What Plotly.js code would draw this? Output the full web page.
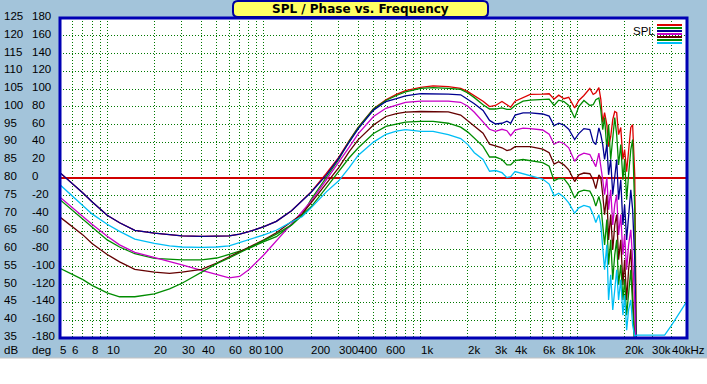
<!DOCTYPE html>
<html>
<head>
<meta charset="utf-8">
<script src="https://cdn.plot.ly/plotly-3.0.1.min.js"></script>
<style>html,body{margin:0;padding:0;background:#fff;}#chart{width:707px;height:384px;}</style>
</head>
<body>
<div id="chart"></div>
<script>
// ---------- data ----------
const freq = [5,6,7,8,10,12,15,20,25,30,40,50,60,70,80,100,120,150,175,200,250,300,350,400,500,600,700,800,1000,1200,1500,1800,2000,2200,2500,2750,3000,3300,3550,3750,4000,4500,5000,6000,6600,7100,7600,8200,8800,9600,10200,11000,12000,12600,13100,13700,
  14100,14500,14900,15400,15800,16300,16800,17300,17800,18300,18900,19500,20000,20600,21200,21900,22500,23200,23900,
  30000,36000,40000,45000,50000];

const splRed = [81.5,78.5,75.8,73.3,69.5,67.4,65.3,64.5,64.0,63.7,63.6,63.6,63.7,64.2,64.9,66.3,67.8,70.8,73.5,76.1,81.3,85.8,90.5,94.3,99.5,102.0,103.5,104.6,105.5,105.9,105.7,105.2,104.3,103.2,101.6,100.1,100.4,101.5,100.6,99.9,101.6,102.5,103.5,103.6,103.7,102.2,103.3,102.3,102.7,99.7,101.8,103.2,105.2,103.5,104.0,105.4,
  102.1,95.6,98.4,95.0,88.8,91.6,96.4,98.7,98.4,92.2,94.2,85.2,88.0,81.8,88.0,94.2,95.0,80.9,20,
  null,null,null,null,null];

const splGreen1 = [73.9,70.9,68.3,66.3,62.6,60.6,58.7,57.4,57.1,57.0,57.0,57.5,58.5,59.4,60.2,62.1,63.5,66.8,69.5,74.0,80.0,85.2,90.4,94.2,99.4,101.8,103.2,104.2,105.2,105.4,105.2,104.9,103.9,102.6,100.6,99.4,99.4,99.7,99.3,99.3,100.4,101.6,101.9,102.1,102.2,100.4,101.9,101.5,100.4,96.9,100.1,101.8,100.4,100.6,102.0,102.5,
  99.2,93.6,97.0,88.0,95.0,85.2,90.8,97.0,92.2,83.7,89.4,79.5,85.2,73.9,80.9,88.0,90.8,71.1,20,
  null,null,null,null,null];

const splBlue = [81.5,78.5,75.8,73.3,69.5,67.4,65.3,64.5,64.0,63.7,63.6,63.6,63.7,64.2,64.9,66.3,67.8,70.8,73.5,76.0,80.8,85.6,90.1,93.9,99.1,101.5,102.3,103.1,103.7,103.7,103.6,103.4,102.2,100.9,99.0,96.2,95.2,95.4,96.0,95.4,97.7,98.3,98.3,98.0,97.4,94.7,95.4,94.9,93.7,90.8,92.5,93.9,93.6,90.2,89.4,94.1,
  92.2,89.4,85.2,89.4,80.9,85.2,75.3,80.9,85.2,73.9,79.5,66.8,72.5,62.6,69.7,76.7,71.1,57.0,20,
  null,null,null,null,null];

const splMagenta = [74.6,71.6,69.2,67.0,63.6,61.2,59.1,57.7,56.4,55.6,54.0,52.8,51.9,52.3,54.2,58.4,62.2,67.1,70.5,73.5,79.5,84.3,88.7,92.5,97.3,99.6,100.6,101.3,101.6,101.6,101.6,101.3,100.2,98.5,95.9,93.7,93.1,93.7,93.3,91.9,93.5,94.0,93.9,93.5,92.3,89.5,90.2,89.7,88.5,84.7,86.3,87.0,86.6,84.6,83.2,87.0,
  83.7,79.5,75.3,80.1,71.1,76.7,66.8,72.5,75.3,64.0,69.7,58.4,64.0,54.2,61.2,65.4,57.0,45.7,20,
  null,null,null,null,null];

const splMaroon = [69.0,66.4,64.0,61.6,58.5,56.4,54.3,53.5,53.2,53.5,54.3,56.1,57.8,59.2,60.4,62.6,64.6,67.7,69.9,73.0,78.4,82.9,87.4,90.8,94.9,97.3,98.1,98.5,98.7,98.7,98.6,97.7,96.1,94.6,92.6,89.5,89.1,88.5,87.7,88.0,88.8,88.9,88.8,88.1,87.1,83.9,84.6,83.7,82.3,79.0,80.9,81.4,81.2,79.5,77.0,80.9,
  80.1,75.3,69.7,75.3,62.6,69.7,59.8,66.8,69.7,57.0,62.6,49.9,57.0,45.7,54.2,59.8,48.5,37.2,20,
  null,null,null,null,null];

const splGreen2 = [54.6,52.9,51.4,49.8,47.7,46.6,46.6,47.4,48.8,50.4,53.5,55.9,57.5,59.0,60.3,62.3,64.2,66.8,69.4,71.9,77.3,81.8,85.7,88.5,92.5,94.5,95.2,95.7,95.9,95.9,95.4,94.3,92.9,91.2,88.9,85.9,85.9,85.2,83.7,83.7,84.9,85.2,84.9,84.3,83.3,79.2,79.9,79.8,78.1,74.4,76.1,76.6,76.3,74.5,72.1,74.8,
  72.5,66.8,61.2,68.3,55.6,62.6,51.4,58.4,62.6,49.9,55.6,45.7,51.4,41.4,48.5,54.2,44.3,35.8,20,
  null,null,null,null,null];

const splCyan = [78.1,74.9,72.0,69.9,67.0,65.0,62.8,61.6,60.9,60.6,60.5,60.6,60.9,61.8,62.5,64.0,65.3,67.7,69.1,71.6,76.1,79.2,82.9,86.4,90.1,92.3,93.2,93.6,93.1,93.1,92.2,91.1,89.4,87.1,85.2,81.9,82.1,81.5,80.1,80.4,81.8,81.2,80.8,79.7,78.3,75.0,75.7,74.6,73.0,70.1,71.6,72.3,71.8,69.7,67.5,69.7,
  66.8,59.8,54.2,61.2,45.7,52.8,42.9,48.5,54.2,45.7,51.4,41.4,47.1,37.2,42.9,45.7,38.6,35.5,35.8,
  35.8,35.8,38.7,42.3,45.4];

const zeroPhaseDb = 80;   // 0 deg sits on the 80 dB line

const dbTicks  = [125,120,115,110,105,100,95,90,85,80,75,70,65,60,55,50,45,40,35];
const degTicks = [180,160,140,120,100,80,60,40,20,0,-20,-40,-60,-80,-100,-120,-140,-160,-180];
const xLabelVals = [5,6,8,10,20,30,40,60,80,100,200,300,400,600,1000,2000,3000,4000,6000,8000,10000,20000,30000,40000];
const xLabelText = ['5','6','8','10','20','30','40','60','80','100','200','300','400','600','1k','2k','3k','4k','6k','8k','10k','20k','30k','40kHz'];
const gridFreqs = [];
[1,10,100,1000,10000].forEach(d => { for (let m = 1; m <= 9; m++) { const v = m*d; if (v >= 5 && v <= 50000) gridFreqs.push(v); } });

const seriesNames  = ['SPL 1','SPL 2','SPL 3','SPL 4','SPL 5','SPL 6','SPL 7'];
const seriesData   = [splRed, splGreen1, splBlue, splMagenta, splMaroon, splGreen2, splCyan];
const seriesColors = ['#DC0000','#008C00','#000090','#C800C8','#640000','#008C00','#00BEF5'];

// ---------- layout helpers ----------
const W = 707, H = 384, ML = 60, MR = 20, MT = 18, MB = 46;
const PW = W - ML - MR, PH = H - MT - MB;
const px = x => (x - ML) / PW;
const py = y => (H - MB - y) / PH;

const FONT = 'Liberation Sans, Arial, sans-serif';
const FS = 11.5;

const traces = [{
  x: [freq[0], freq[freq.length-1]], y: [zeroPhaseDb, zeroPhaseDb],
  mode: 'lines', line: {color: '#D00000', width: 2}, hoverinfo: 'skip', showlegend: false
}];
seriesData.forEach((arr, i) => traces.push({
  x: freq, y: arr, name: seriesNames[i], mode: 'lines',
  line: {color: seriesColors[i], width: 1.3}, connectgaps: false,
  hoverinfo: 'skip', showlegend: false
}));

// rounded title box
function roundRect(x0, y0, x1, y1, r) {
  const P = (x, y) => px(x).toFixed(5) + ',' + py(y).toFixed(5);
  return 'M' + P(x0 + r, y0) + ' L' + P(x1 - r, y0) + ' Q' + P(x1, y0) + ' ' + P(x1, y0 + r) +
         ' L' + P(x1, y1 - r) + ' Q' + P(x1, y1) + ' ' + P(x1 - r, y1) +
         ' L' + P(x0 + r, y1) + ' Q' + P(x0, y1) + ' ' + P(x0, y1 - r) +
         ' L' + P(x0, y0 + r) + ' Q' + P(x0, y0) + ' ' + P(x0 + r, y0) + ' Z';
}

const shapes = [
  {type: 'rect', xref: 'paper', yref: 'paper', x0: px(0), x1: px(W), y0: py(H), y1: py(358), fillcolor: '#FFFFFF', line: {width: 0}, layer: 'below'},
  {type: 'line', xref: 'paper', yref: 'paper', x0: px(0), x1: px(W), y0: py(358), y1: py(358), line: {color: '#C4C4C4', width: 1}},
  {type: 'rect', xref: 'paper', yref: 'paper', x0: 0, x1: 1, y0: 0, y1: 1, line: {color: '#0000B4', width: 3}, layer: 'above'},
  {type: 'path', xref: 'paper', yref: 'paper', path: roundRect(233, 1, 488, 17, 5), fillcolor: '#FFFF64', line: {color: '#0000A0', width: 2}, layer: 'above'}
];
const legendY = [25, 28, 31, 34, 37, 40, 43];
seriesColors.forEach((c, i) => shapes.push({
  type: 'line', xref: 'paper', yref: 'paper', x0: px(657), x1: px(682), y0: py(legendY[i]), y1: py(legendY[i]),
  line: {color: c, width: 2}, layer: 'above'
}));

const annotations = [
  {text: 'SPL / Phase vs. Frequency', xref: 'paper', yref: 'paper', x: px(360.5), y: py(9.5), xanchor: 'center', yanchor: 'middle',
   showarrow: false, font: {family: 'DejaVu Sans, Liberation Sans, sans-serif', size: 12, color: '#000', weight: 'bold'}},
  {text: 'SPL', xref: 'paper', yref: 'paper', x: px(632), y: py(31), xanchor: 'left', yanchor: 'middle', showarrow: false, borderpad: 0,
   font: {family: FONT, size: FS, color: '#000'}}
];
xLabelVals.forEach((v, i) => annotations.push({
  text: xLabelText[i], xref: 'x', yref: 'paper', x: Math.log10(v), y: py(350), xanchor: 'left', yanchor: 'middle',
  xshift: -1, showarrow: false, borderpad: 0, font: {family: FONT, size: FS, color: '#000'}
}));
dbTicks.forEach((v, i) => {
  annotations.push({text: String(v), xref: 'paper', yref: 'y', x: px(3), y: v, yshift: 2, xanchor: 'left', yanchor: 'middle',
    showarrow: false, borderpad: 0, font: {family: FONT, size: FS, color: '#000'}});
  annotations.push({text: String(degTicks[i]), xref: 'paper', yref: 'y', x: px(31), y: v, yshift: 2, xanchor: 'left', yanchor: 'middle',
    showarrow: false, borderpad: 0, font: {family: FONT, size: FS, color: '#000'}});
});
annotations.push({text: 'dB', xref: 'paper', yref: 'paper', x: px(3), y: py(350), xanchor: 'left', yanchor: 'middle', showarrow: false, borderpad: 0, font: {family: FONT, size: FS, color: '#000'}});
annotations.push({text: 'deg', xref: 'paper', yref: 'paper', x: px(31), y: py(350), xanchor: 'left', yanchor: 'middle', showarrow: false, borderpad: 0, font: {family: FONT, size: FS, color: '#000'}});

const gridStyle = {showgrid: true, gridcolor: '#007800', gridwidth: 1, griddash: '1px,2px', zeroline: false, showline: false, ticks: '', showticklabels: false, fixedrange: true};

const layout = {
  width: W, height: H,
  margin: {l: ML, r: MR, t: MT, b: MB, pad: 0},
  paper_bgcolor: '#A3C4DA', plot_bgcolor: '#FFFFFF',
  showlegend: false,
  xaxis: Object.assign({type: 'log', range: [Math.log10(5), Math.log10(50000)], tickmode: 'array', tickvals: gridFreqs}, gridStyle),
  yaxis: Object.assign({range: [35, 125], tickmode: 'array', tickvals: dbTicks}, gridStyle),
  shapes: shapes,
  annotations: annotations
};

Plotly.newPlot('chart', traces, layout, {staticPlot: true, displayModeBar: false});
</script>
</body>
</html>
